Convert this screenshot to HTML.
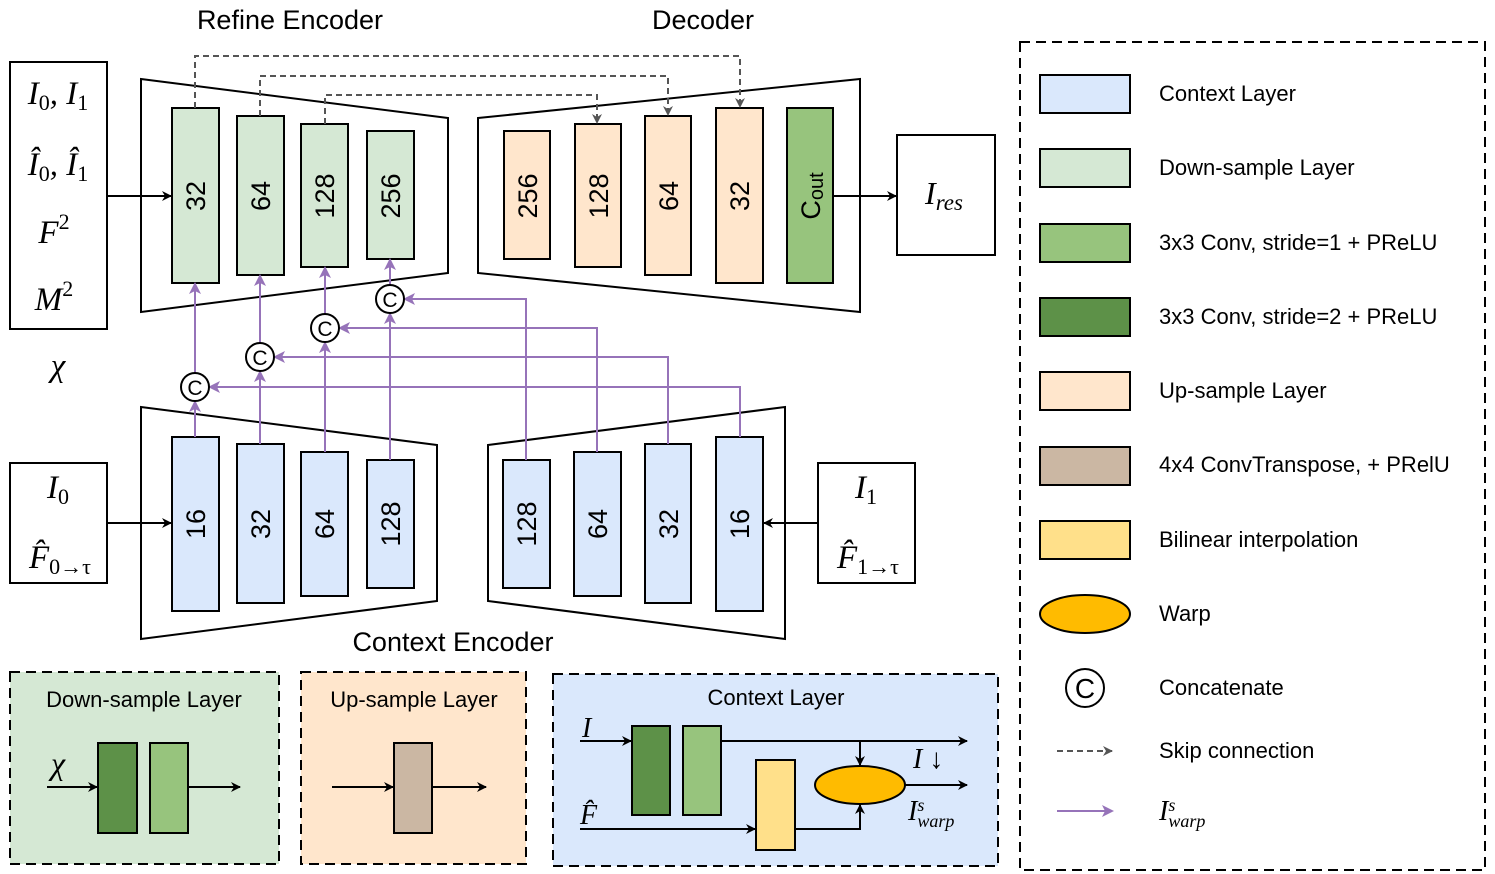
<!DOCTYPE html>
<html><head><meta charset="utf-8"><style>
body{margin:0;background:#fff}
svg{display:block;font-family:"Liberation Sans",sans-serif}
.m{font-family:"Liberation Serif",serif;font-style:italic}
</style></head><body>
<svg width="1495" height="874" viewBox="0 0 1495 874" xmlns="http://www.w3.org/2000/svg">
<defs>
<marker id="a" markerWidth="10" markerHeight="10" refX="9" refY="5" orient="auto" markerUnits="userSpaceOnUse"><path d="M0,0 L10,5 L0,10 L3,5 z" fill="#000"/></marker>
<marker id="g" markerWidth="10" markerHeight="10" refX="9" refY="5" orient="auto" markerUnits="userSpaceOnUse"><path d="M0,0 L10,5 L0,10 L3,5 z" fill="#555"/></marker>
<marker id="p" markerWidth="12" markerHeight="12" refX="10" refY="6" orient="auto" markerUnits="userSpaceOnUse"><path d="M0,0 L12,6 L0,12 L3,6 z" fill="#9673b9"/></marker>
</defs>
<g font-size="27" text-anchor="middle">
<text x="290" y="29">Refine Encoder</text>
<text x="703" y="29">Decoder</text>
<text x="453" y="651">Context Encoder</text>
</g>
<!-- input box -->
<rect x="10" y="62" width="97" height="267" fill="#fff" stroke="#000" stroke-width="2"/>
<g class="m" font-size="33" text-anchor="middle">
<text x="58" y="104">I<tspan font-size="22" font-style="normal" dy="6">0</tspan><tspan dy="-6">, I</tspan><tspan font-size="22" font-style="normal" dy="6">1</tspan></text>
<text x="58" y="175">Î<tspan font-size="22" font-style="normal" dy="6">0</tspan><tspan dy="-6">, Î</tspan><tspan font-size="22" font-style="normal" dy="6">1</tspan></text>
<text x="54" y="243">F<tspan font-size="22" font-style="normal" dy="-14">2</tspan></text>
<text x="54" y="310">M<tspan font-size="22" font-style="normal" dy="-14">2</tspan></text>
<text x="58" y="376">χ</text>
</g>
<!-- refine encoder -->
<polygon points="141,79 448,118 448,273 141,312" fill="#fff" stroke="#000" stroke-width="2"/>
<g fill="#d5e8d4" stroke="#000" stroke-width="2">
<rect x="172" y="108" width="47" height="175"/><rect x="237" y="116" width="47" height="159"/>
<rect x="301" y="124" width="47" height="143"/><rect x="367" y="131" width="47" height="128"/>
</g>
<line x1="107" y1="196" x2="171" y2="196" stroke="#000" stroke-width="2" marker-end="url(#a)"/>
<!-- decoder -->
<polygon points="478,118 860,79 860,312 478,273" fill="#fff" stroke="#000" stroke-width="2"/>
<g fill="#ffe6cc" stroke="#000" stroke-width="2">
<rect x="504" y="131" width="46" height="128"/><rect x="575" y="124" width="46" height="143"/>
<rect x="645" y="116" width="46" height="159"/><rect x="716" y="108" width="47" height="175"/>
</g>
<rect x="787" y="108" width="46" height="175" fill="#97c47d" stroke="#000" stroke-width="2"/>
<g font-size="27" text-anchor="middle">
<text transform="translate(205,196) rotate(-90)">32</text>
<text transform="translate(270,196) rotate(-90)">64</text>
<text transform="translate(334,196) rotate(-90)">128</text>
<text transform="translate(400,196) rotate(-90)">256</text>
<text transform="translate(537,196) rotate(-90)">256</text>
<text transform="translate(608,196) rotate(-90)">128</text>
<text transform="translate(678,196) rotate(-90)">64</text>
<text transform="translate(749,196) rotate(-90)">32</text>
<text transform="translate(820,196) rotate(-90)">C<tspan font-size="20" dy="3">out</tspan></text>
</g>
<line x1="833" y1="196" x2="896" y2="196" stroke="#000" stroke-width="2" marker-end="url(#a)"/>
<rect x="897" y="135" width="98" height="120" fill="#fff" stroke="#000" stroke-width="2"/>
<text x="944" y="204" class="m" font-size="32" text-anchor="middle">I<tspan font-size="23" dy="6">res</tspan></text>
<!-- skip connections -->
<g fill="none" stroke="#555" stroke-width="2" stroke-dasharray="6,4">
<polyline points="195,108 195,56 740,56 740,107" marker-end="url(#g)"/>
<polyline points="260,116 260,76 668,76 668,115" marker-end="url(#g)"/>
<polyline points="325,124 325,95 597,95 597,123" marker-end="url(#g)"/>
</g>
<!-- context encoders -->
<polygon points="141,407 437,445 437,601 141,639" fill="#fff" stroke="#000" stroke-width="2"/>
<polygon points="488,445 785,407 785,639 488,601" fill="#fff" stroke="#000" stroke-width="2"/>
<g fill="#dae8fc" stroke="#000" stroke-width="2">
<rect x="172" y="437" width="47" height="174"/><rect x="237" y="444" width="47" height="159"/>
<rect x="301" y="452" width="47" height="144"/><rect x="367" y="460" width="47" height="128"/>
<rect x="503" y="460" width="47" height="128"/><rect x="574" y="452" width="47" height="144"/>
<rect x="645" y="444" width="46" height="159"/><rect x="716" y="437" width="47" height="174"/>
</g>
<g font-size="27" text-anchor="middle">
<text transform="translate(205,524) rotate(-90)">16</text>
<text transform="translate(270,524) rotate(-90)">32</text>
<text transform="translate(334,524) rotate(-90)">64</text>
<text transform="translate(400,524) rotate(-90)">128</text>
<text transform="translate(536,524) rotate(-90)">128</text>
<text transform="translate(607,524) rotate(-90)">64</text>
<text transform="translate(678,524) rotate(-90)">32</text>
<text transform="translate(749,524) rotate(-90)">16</text>
</g>
<rect x="10" y="463" width="97" height="120" fill="#fff" stroke="#000" stroke-width="2"/>
<rect x="818" y="463" width="97" height="120" fill="#fff" stroke="#000" stroke-width="2"/>
<g class="m" font-size="33" text-anchor="middle">
<text x="58" y="498">I<tspan font-size="22" font-style="normal" dy="6">0</tspan></text>
<text x="60" y="568">F̂<tspan font-size="22" font-style="normal" dy="6">0→τ</tspan></text>
<text x="866" y="498">I<tspan font-size="22" font-style="normal" dy="6">1</tspan></text>
<text x="868" y="568">F̂<tspan font-size="22" font-style="normal" dy="6">1→τ</tspan></text>
</g>
<line x1="107" y1="523" x2="171" y2="523" stroke="#000" stroke-width="2" marker-end="url(#a)"/>
<line x1="818" y1="523" x2="764" y2="523" stroke="#000" stroke-width="2" marker-end="url(#a)"/>
<!-- purple -->
<g fill="none" stroke="#9673b9" stroke-width="2">
<line x1="195" y1="437" x2="195" y2="402" marker-end="url(#p)"/>
<line x1="260" y1="444" x2="260" y2="372" marker-end="url(#p)"/>
<line x1="325" y1="452" x2="325" y2="343" marker-end="url(#p)"/>
<line x1="390" y1="460" x2="390" y2="314" marker-end="url(#p)"/>
<line x1="195" y1="373" x2="195" y2="284" marker-end="url(#p)"/>
<line x1="260" y1="343" x2="260" y2="276" marker-end="url(#p)"/>
<line x1="325" y1="314" x2="325" y2="268" marker-end="url(#p)"/>
<line x1="390" y1="285" x2="390" y2="260" marker-end="url(#p)"/>
<polyline points="740,437 740,387 210,387" marker-end="url(#p)"/>
<polyline points="668,444 668,357 275,357" marker-end="url(#p)"/>
<polyline points="597,452 597,328 340,328" marker-end="url(#p)"/>
<polyline points="526,460 526,299 405,299" marker-end="url(#p)"/>
</g>
<g fill="#fff" stroke="#000" stroke-width="2">
<circle cx="195" cy="387" r="14"/><circle cx="260" cy="357" r="14"/>
<circle cx="325" cy="328" r="14"/><circle cx="390" cy="299" r="14"/>
</g>
<g font-size="21" text-anchor="middle">
<text x="195" y="395">C</text><text x="260" y="365">C</text><text x="325" y="336">C</text><text x="390" y="307">C</text>
</g>
<!-- bottom panels -->
<rect x="10" y="672" width="269" height="192" fill="#d5e8d4" stroke="#000" stroke-width="2" stroke-dasharray="10,6"/>
<rect x="301" y="672" width="225" height="192" fill="#ffe6cc" stroke="#000" stroke-width="2" stroke-dasharray="10,6"/>
<rect x="553" y="674" width="445" height="192" fill="#dae8fc" stroke="#000" stroke-width="2" stroke-dasharray="10,6"/>
<g font-size="22" text-anchor="middle">
<text x="144" y="707">Down-sample Layer</text>
<text x="414" y="707">Up-sample Layer</text>
<text x="776" y="705">Context Layer</text>
</g>
<text x="58" y="774" class="m" font-size="32" text-anchor="middle">χ</text>
<rect x="98" y="743" width="39" height="90" fill="#5d9148" stroke="#000" stroke-width="2"/>
<rect x="150" y="743" width="38" height="90" fill="#97c47d" stroke="#000" stroke-width="2"/>
<line x1="47" y1="787" x2="97" y2="787" stroke="#000" stroke-width="2" marker-end="url(#a)"/>
<line x1="188" y1="787" x2="240" y2="787" stroke="#000" stroke-width="2" marker-end="url(#a)"/>
<rect x="394" y="743" width="38" height="90" fill="#cbb7a3" stroke="#000" stroke-width="2"/>
<line x1="332" y1="787" x2="393" y2="787" stroke="#000" stroke-width="2" marker-end="url(#a)"/>
<line x1="432" y1="787" x2="486" y2="787" stroke="#000" stroke-width="2" marker-end="url(#a)"/>
<!-- context layer -->
<rect x="632" y="726" width="38" height="89" fill="#5d9148" stroke="#000" stroke-width="2"/>
<rect x="683" y="726" width="38" height="89" fill="#97c47d" stroke="#000" stroke-width="2"/>
<rect x="756" y="760" width="39" height="90" fill="#ffe08a" stroke="#000" stroke-width="2"/>
<ellipse cx="860" cy="785" rx="45" ry="19" fill="#ffbb00" stroke="#000" stroke-width="2"/>
<g stroke="#000" stroke-width="2" fill="none">
<line x1="580" y1="741" x2="631" y2="741" marker-end="url(#a)"/>
<line x1="721" y1="741" x2="967" y2="741" marker-end="url(#a)"/>
<line x1="860" y1="741" x2="860" y2="765" marker-end="url(#a)"/>
<line x1="580" y1="829" x2="755" y2="829" marker-end="url(#a)"/>
<polyline points="795,829 860,829 860,805" marker-end="url(#a)"/>
<line x1="905" y1="785" x2="967" y2="785" marker-end="url(#a)"/>
</g>
<g class="m" font-size="28">
<text x="582" y="737">I</text>
<text x="580" y="824">F̂</text>
<text x="913" y="768">I <tspan font-style="normal">↓</tspan></text>
<text x="908" y="820">I<tspan font-size="18" dy="-9">s</tspan><tspan font-size="18" dx="-7" dy="16">warp</tspan></text>
</g>
<!-- legend -->
<rect x="1020" y="42" width="465" height="828" fill="none" stroke="#000" stroke-width="2" stroke-dasharray="10,6"/>
<g stroke="#000" stroke-width="2">
<rect x="1040" y="75" width="90" height="38" fill="#dae8fc"/>
<rect x="1040" y="149" width="90" height="38" fill="#d5e8d4"/>
<rect x="1040" y="224" width="90" height="38" fill="#97c47d"/>
<rect x="1040" y="298" width="90" height="38" fill="#5d9148"/>
<rect x="1040" y="372" width="90" height="38" fill="#ffe6cc"/>
<rect x="1040" y="447" width="90" height="38" fill="#cbb7a3"/>
<rect x="1040" y="521" width="90" height="38" fill="#ffe08a"/>
<ellipse cx="1085" cy="614" rx="45" ry="19" fill="#ffbb00"/>
<circle cx="1085" cy="688" r="19" fill="#fff"/>
</g>
<text x="1085" y="698" font-size="28" text-anchor="middle">C</text>
<line x1="1057" y1="751" x2="1112" y2="751" stroke="#555" stroke-width="2" stroke-dasharray="6,4" marker-end="url(#g)"/>
<line x1="1057" y1="811" x2="1112" y2="811" stroke="#9673b9" stroke-width="2" marker-end="url(#p)"/>
<g font-size="22">
<text x="1159" y="101">Context Layer</text>
<text x="1159" y="175">Down-sample Layer</text>
<text x="1159" y="250">3x3 Conv, stride=1 + PReLU</text>
<text x="1159" y="324">3x3 Conv, stride=2 + PReLU</text>
<text x="1159" y="398">Up-sample Layer</text>
<text x="1159" y="472">4x4 ConvTranspose, + PRelU</text>
<text x="1159" y="547">Bilinear interpolation</text>
<text x="1159" y="621">Warp</text>
<text x="1159" y="695">Concatenate</text>
<text x="1159" y="758">Skip connection</text>
</g>
<text x="1159" y="820" class="m" font-size="28">I<tspan font-size="18" dy="-9">s</tspan><tspan font-size="18" dx="-7" dy="16">warp</tspan></text>
</svg>
</body></html>
